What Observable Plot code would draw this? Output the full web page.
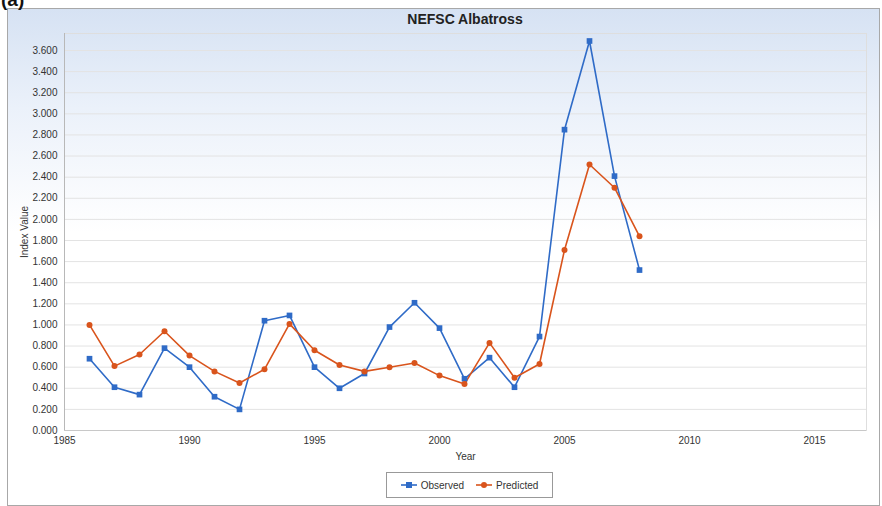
<!DOCTYPE html>
<html>
<head>
<meta charset="utf-8">
<script src="https://cdn.jsdelivr.net/npm/d3@7"></script>
<script src="https://cdn.jsdelivr.net/npm/@observablehq/plot@0.6"></script>
<style>
  body { margin: 0; width: 882px; height: 506px; overflow: hidden; background: #fff; font-family: "Liberation Sans", Arial, sans-serif; }
  #wrap { position: relative; width: 882px; height: 506px; }
  #frame { position: absolute; left: 7px; top: 8px; width: 871px; height: 496px; border: 1px solid #a8a8a8;
           background: linear-gradient(to bottom, #d6e2f3 0%, #ebf1fa 20%, #ffffff 45%, #ffffff 100%); }
  #tag { position: absolute; left: 1px; top: -11px; font: bold 19px "Liberation Sans", Arial, sans-serif; color: #111; }
  #title { position: absolute; left: 64px; width: 802px; top: 11px; text-align: center; font: bold 14px "Liberation Sans", Arial, sans-serif; color: #222; }
  #chart { position: absolute; left: 0; top: 0; }
  #legend { position: absolute; left: 386px; top: 472px; width: 165px; height: 24px; border: 1px solid #999; background: #fff;
            display: flex; align-items: center; justify-content: center; gap: 12px; font: 10px "Liberation Sans", Arial, sans-serif; color: #333; }
  .item { display: flex; align-items: center; gap: 4px; }
</style>
</head>
<body>
<div id="wrap">
  <div id="frame"></div>
  <div id="tag">(a)</div>
  <div id="chart"></div>
  <div id="title">NEFSC Albatross</div>
  <div id="legend"></div>
</div>
<script>
const years = [1986,1987,1988,1989,1990,1991,1992,1993,1994,1995,1996,1997,1998,1999,2000,2001,2002,2003,2004,2005,2006,2007,2008];
const observed = [0.68,0.41,0.34,0.78,0.60,0.32,0.20,1.04,1.09,0.60,0.40,0.54,0.98,1.21,0.97,0.49,0.69,0.41,0.89,2.85,3.69,2.41,1.52];
const predicted = [1.00,0.61,0.72,0.94,0.71,0.56,0.45,0.58,1.01,0.76,0.62,0.56,0.60,0.64,0.52,0.44,0.83,0.50,0.63,1.71,2.52,2.30,1.84];
const seriesNames = ["Observed", "Predicted"];
const seriesColors = ["#2f6bc7", "#d9541c"];
const xTicks = [1985,1990,1995,2000,2005,2010,2015];
const yTicks = [0,0.2,0.4,0.6,0.8,1.0,1.2,1.4,1.6,1.8,2.0,2.2,2.4,2.6,2.8,3.0,3.2,3.4,3.6];

const obsData = years.map((y, i) => ({year: y, value: observed[i]}));
const predData = years.map((y, i) => ({year: y, value: predicted[i]}));

const chart = Plot.plot({
  width: 882,
  height: 460,
  marginLeft: 64,
  marginRight: 16,
  marginTop: 33,
  marginBottom: 30,
  style: {background: "transparent", fontFamily: "Liberation Sans, Arial, sans-serif", fontSize: "10px", color: "#333"},
  x: {domain: [1985, 2017.08]},
  y: {domain: [0, 3.761]},
  marks: [
    Plot.ruleY(yTicks, {stroke: "#e3e3e3", strokeWidth: 1}),
    Plot.frame({stroke: "#dedede"}),
    Plot.ruleX([1985], {stroke: "#b8b8b8"}),
    Plot.ruleY([0], {stroke: "#c8c8c8"}),
    Plot.axisY({ticks: yTicks, tickFormat: d3.format(".3f"), tickSize: 0, tickPadding: 7, label: "Index Value", labelAnchor: "center", labelArrow: "none", labelOffset: 44}),
    Plot.axisX({ticks: xTicks, tickFormat: "d", tickSize: 0, tickPadding: 6, label: "Year", labelAnchor: "center", labelArrow: "none", labelOffset: 29}),
    Plot.line(obsData, {x: "year", y: "value", stroke: seriesColors[0], strokeWidth: 1.6}),
    Plot.line(predData, {x: "year", y: "value", stroke: seriesColors[1], strokeWidth: 1.6}),
    Plot.dot(obsData, {x: "year", y: "value", symbol: "square", r: 3.2, fill: seriesColors[0], stroke: "none"}),
    Plot.dot(predData, {x: "year", y: "value", symbol: "circle", r: 3, fill: seriesColors[1], stroke: "none"})
  ]
});
document.getElementById("chart").appendChild(chart);

const legend = document.getElementById("legend");
seriesNames.forEach((name, i) => {
  const item = document.createElement("div");
  item.className = "item";
  const marker = i === 0
    ? `<rect x="5" y="3" width="6" height="6" fill="${seriesColors[i]}"/>`
    : `<circle cx="8" cy="6" r="3" fill="${seriesColors[i]}"/>`;
  item.innerHTML = `<svg width="16" height="12"><line x1="0" y1="6" x2="16" y2="6" stroke="${seriesColors[i]}" stroke-width="1.6"/>${marker}</svg><span>${name}</span>`;
  legend.appendChild(item);
});
</script>
</body>
</html>
